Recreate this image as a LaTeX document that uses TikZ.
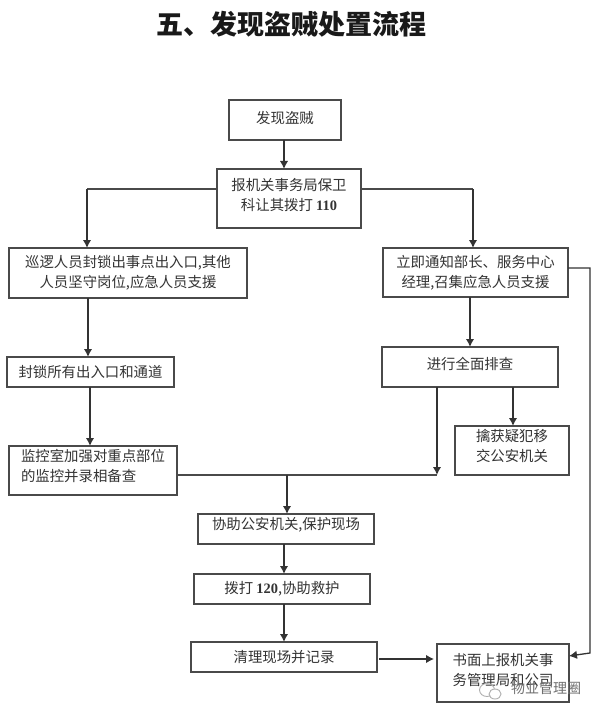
\documentclass[tikz,border=0pt]{standalone}
\usepackage{fontspec}
\setmainfont{Noto Sans CJK SC}
\newfontfamily\latn{Liberation Serif}
\usetikzlibrary{arrows.meta}
\definecolor{ink}{HTML}{333333}
\definecolor{edge}{HTML}{4A4A4A}
\definecolor{wm}{HTML}{6E6E6E}
\tikzset{
  boxn/.style={draw=edge,line width=1.3pt,fill=white,inner sep=0pt,outer sep=0pt,align=center,text=ink,
    font=\fontsize{14.4}{20}\selectfont},
  flow/.style={draw=ink,line width=2pt,-{Latex[length=8pt,width=8.5pt]}},
  plainline/.style={draw=edge,line width=1.3pt},
  sideflow/.style={draw=ink,line width=1.3pt,-{Latex[length=8pt,width=8.5pt]}},
  titletext/.style={font=\fontsize{27}{30}\selectfont\bfseries,text=black!90},
  wmtext/.style={font=\fontsize{14}{16}\selectfont,text=wm}
}
\newcommand{\bx}[7][center]{\node[boxn,align=#1,minimum width={(#5-#3)*1pt},minimum height={(#6-#4)*1pt}] (#2) at ({(#3+#5)/2},{(#4+#6)/2}) {#7};}
\begin{document}
\begin{tikzpicture}[x=1pt,y=-1pt]
\useasboundingbox (0,0) rectangle (600,714);
\node[titletext] (title) at (291,25) {五、发现盗贼处置流程};
\bx{fx}{229}{100}{341}{140}{发现盗贼\\[-14pt]\mbox{}}
\bx{bj}{217}{169}{361}{228}{报机关事务局保卫\\科让其拨打 {\latn\bfseries 110}\\[-12pt]\mbox{}}
\bx{xl}{9}{248}{247}{298}{巡逻人员封锁出事点出入口,其他\\人员坚守岗位,应急人员支援}
\bx{lj}{383}{248}{568}{297}{立即通知部长、服务中心\\经理,召集应急人员支援}
\bx{fs}{7}{357}{174}{387}{封锁所有出入口和通道}
\bx{jx}{382}{347}{558}{387}{进行全面排查\\[-12pt]\mbox{}}
\bx{qh}{455}{426}{569}{475}{\mbox{}\\[-16pt]擒获疑犯移\\交公安机关}
\bx[left]{jk}{9}{446}{177}{495}{\mbox{}\\[-16pt]监控室加强对重点部位\\的监控并录相备查}
\bx{xz}{198}{514}{374}{544}{\mbox{}\\[-16pt]协助公安机关,保护现场}
\bx{bd}{194}{574}{370}{604}{拨打 {\latn\bfseries 120},协助救护}
\bx{ql}{191}{642}{377}{672}{清理现场并记录}
\bx{sm}{437}{644}{569}{702}{书面上报机关事\\务管理局和公司\\[-12pt]\mbox{}}
\coordinate (cl) at (87,189);
\coordinate (cr) at (473,189);
\coordinate (merge) at (437,475);
\coordinate (drop) at (287,475);
\coordinate (r1) at (590,268);
\coordinate (r2) at (590,653);
\draw[flow] ([xshift=-1pt]fx.south) -- ([xshift=-5pt]bj.north);
\draw[plainline] ([yshift=9.5pt]bj.west) -- (cl);
\draw[flow] (cl) -- ([xshift=-41pt]xl.north);
\draw[plainline] ([yshift=9.5pt]bj.east) -- (cr);
\draw[flow] (cr) -- ([xshift=-2.5pt]lj.north);
\draw[flow] ([xshift=-40pt]xl.south) -- ([xshift=-2.5pt]fs.north);
\draw[flow] ([xshift=-0.5pt]fs.south) -- ([xshift=-3pt]jk.north);
\draw[flow] ([xshift=-5.5pt]lj.south) -- (jx.north);
\draw[flow] ([xshift=43pt]jx.south) -- ([xshift=1pt]qh.north);
\draw[flow] ([xshift=-33pt]jx.south) -- (merge);
\draw[plainline] ([yshift=-4.5pt]jk.east) -- (merge);
\draw[flow] (drop) -- ([xshift=1pt]xz.north);
\draw[flow] ([xshift=-2pt]xz.south) -- ([xshift=2pt]bd.north);
\draw[flow] ([xshift=2pt]bd.south) -- (ql.north);
\draw[sideflow] ([xshift=2pt,yshift=-2pt]ql.east) -- ([xshift=-3pt,yshift=14pt]sm.west);
\draw[sideflow] ([yshift=4.5pt]lj.east) -- (r1) -- (r2) -- ([yshift=17pt]sm.east);
% watermark
\draw[wm!55,line width=0.9pt] (487,690) ellipse (7.5 and 6.5);
\draw[wm!55,line width=0.9pt,fill=white] (495,694) ellipse (6 and 5);
\node[wmtext,inner sep=0pt] (mark) at (546,688) {物业管理圈};
\end{tikzpicture}
\end{document}
